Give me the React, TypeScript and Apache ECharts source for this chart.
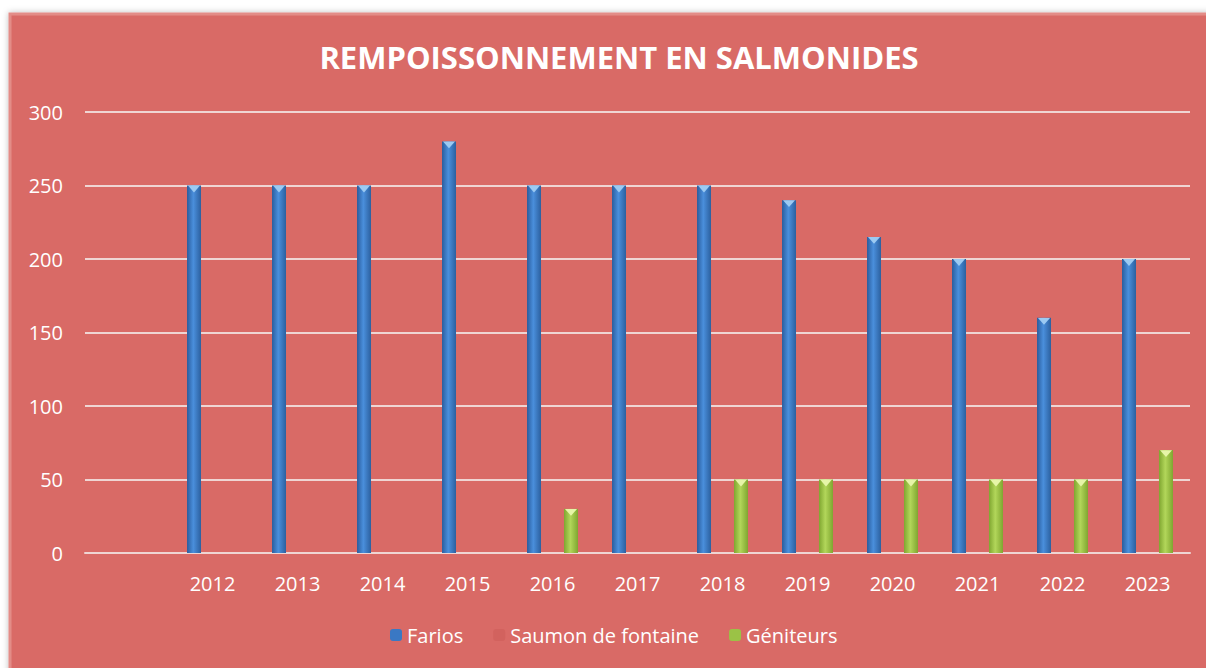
import React, { useEffect, useRef } from "react";
import * as echarts from "echarts";

const categories = ["", "2012", "2013", "2014", "2015", "2016", "2017", "2018", "2019", "2020", "2021", "2022", "2023"];
const farios = [null, 250, 250, 250, 280, 250, 250, 250, 240, 215, 200, 160, 200];
const saumon = [null, null, null, null, null, null, null, null, null, null, null, null, null];
const geniteurs = [null, null, null, null, null, 30, null, 50, 50, 50, 50, 50, 70];
const yTicks = { min: 0, max: 300, interval: 50 };

const blueGrad = new echarts.graphic.LinearGradient(0, 0, 1, 0, [
  { offset: 0, color: "#2a5d9e" },
  { offset: 0.45, color: "#4a8fdc" },
  { offset: 1, color: "#2c609f" },
]);
const greenGrad = new echarts.graphic.LinearGradient(0, 0, 1, 0, [
  { offset: 0, color: "#7fa630" },
  { offset: 0.45, color: "#b2d65a" },
  { offset: 1, color: "#7fa630" },
]);

export default function App() {
  const ref = useRef<HTMLDivElement>(null);
  useEffect(() => {
    if (!ref.current) return;
    const chart = echarts.init(ref.current, null, { renderer: "svg" });
    const font = "'Open Sans', sans-serif";
    const cap = (name: string, data: (number | null)[], offset: number, color: string) => ({
      name,
      type: "pictorialBar",
      data,
      symbol: "triangle",
      symbolRotate: 180,
      symbolPosition: "end",
      symbolSize: [12, 7],
      symbolOffset: [offset, 0],
      z: 5,
      silent: true,
      itemStyle: { color },
    });
    chart.setOption({
      animation: false,
      backgroundColor: "#ffffff",
      graphic: [
        {
          type: "rect",
          z: -10,
          silent: true,
          shape: { x: 10, y: 14, width: 1200, height: 660 },
          style: {
            fill: "#d96b66",
            stroke: "#e38c87",
            lineWidth: 3,
            shadowBlur: 6,
            shadowColor: "rgba(0,0,0,0.25)",
          },
        },
      ],
      title: {
        text: "REMPOISSONNEMENT EN SALMONIDES",
        left: 614,
        textAlign: "center",
        top: 36,
        textStyle: { color: "#ffffff", fontSize: 31, fontWeight: "bold", fontFamily: font },
      },
      grid: { left: 85, right: 16, top: 112, bottom: 115, containLabel: false },
      legend: {
        bottom: 18,
        left: 385,
        itemWidth: 12,
        itemHeight: 12,
        itemGap: 30,
        textStyle: { color: "#ffffff", fontSize: 20, fontFamily: font },
        data: [
          { name: "Farios", itemStyle: { color: "#3a78c4" } },
          { name: "Saumon de fontaine", itemStyle: { color: "#d2625e" } },
          { name: "Géniteurs", itemStyle: { color: "#9bc246" } },
        ],
      },
      xAxis: {
        type: "category",
        data: categories,
        axisLine: { show: true, lineStyle: { color: "#efd5d3", width: 2 } },
        axisTick: { show: false },
        axisLabel: { color: "#ffffff", fontSize: 20, fontFamily: font, margin: 20 },
        splitLine: { show: false },
      },
      yAxis: {
        type: "value",
        min: yTicks.min,
        max: yTicks.max,
        interval: yTicks.interval,
        axisLine: { show: false },
        axisTick: { show: false },
        axisLabel: { color: "#ffffff", fontSize: 20, fontFamily: font, margin: 22 },
        splitLine: { lineStyle: { color: "#efd5d3", width: 2 } },
      },
      series: [
        {
          name: "Farios",
          type: "bar",
          data: farios,
          barWidth: 14,
          barGap: "32%",
          barCategoryGap: "40%",
          itemStyle: { color: blueGrad },
        },
        {
          name: "Saumon de fontaine",
          type: "bar",
          data: saumon,
          barWidth: 14,
          itemStyle: { color: "#d2625e" },
        },
        {
          name: "Géniteurs",
          type: "bar",
          data: geniteurs,
          barWidth: 14,
          itemStyle: { color: greenGrad },
        },
        cap("Farios cap", farios, -18.5, "#9ccaf2"),
        cap("Géniteurs cap", geniteurs, 18.5, "#e6f5a8"),
      ],
    });
    return () => chart.dispose();
  }, []);
  return (
    <div
      ref={ref}
      style={{ position: "fixed", left: 0, top: 0, width: 1206, height: 668 }}
    />
  );
}
